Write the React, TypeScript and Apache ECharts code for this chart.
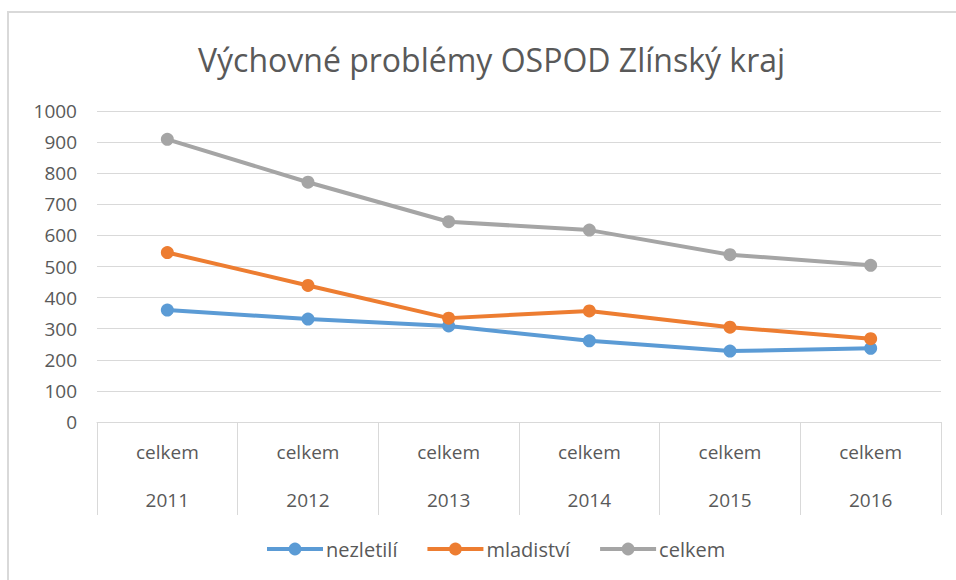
import React, { useEffect, useRef } from "react";
import * as echarts from "echarts";

const years = ["2011", "2012", "2013", "2014", "2015", "2016"];
const subLabels = ["celkem", "celkem", "celkem", "celkem", "celkem", "celkem"];
const nezletili = [360, 331, 309, 261, 228, 237];
const mladistvi = [545, 439, 334, 357, 305, 268];
const celkem = [909, 771, 644, 617, 538, 504];
const yTicks = { min: 0, max: 1000, interval: 100 };

const FONT = "'Open Sans', sans-serif";
const TEXT = "#595959";

export default function App() {
  const ref = useRef<HTMLDivElement>(null);
  useEffect(() => {
    document.body.style.margin = "0";
    const chart = echarts.init(ref.current!, null, { renderer: "svg" });
    const mkSeries = (name: string, data: number[], color: string) => ({
      name,
      type: "line",
      data,
      symbol: "circle",
      symbolSize: 13,
      lineStyle: { width: 4, color },
      itemStyle: { color },
      emphasis: { disabled: true },
    });
    chart.setOption({
      animation: false,
      textStyle: { fontFamily: FONT },
      title: {
        text: "Výchovné problémy OSPOD Zlínský kraj",
        left: 193,
        top: 38,
        textStyle: { fontFamily: FONT, fontSize: 32, fontWeight: "normal", color: TEXT },
      },
      graphic: [
        {
          type: "rect",
          shape: { x: 8, y: 12, width: 1000, height: 700 },
          style: { fill: "none", stroke: "#D9D9D9", lineWidth: 2 },
          silent: true,
          z: -1,
        },
      ],
      legend: {
        bottom: 16,
        left: 260,
        itemWidth: 56,
        itemHeight: 16,
        itemGap: 28,
        lineStyle: { width: 4 },
        textStyle: { fontFamily: FONT, fontSize: 20, color: TEXT, padding: [0, 0, 0, -2] },
        data: ["nezletilí", "mladiství", "celkem"],
      },
      grid: { left: 97, right: 15, top: 111, bottom: 158, containLabel: false },
      xAxis: {
        type: "category",
        data: years,
        boundaryGap: true,
        axisLine: { lineStyle: { color: "#D9D9D9", width: 1 } },
        axisTick: { show: true, length: 93, interval: 0, lineStyle: { color: "#D9D9D9" } },
        axisLabel: {
          interval: 0,
          margin: 18,
          color: TEXT,
          fontFamily: FONT,
          fontSize: 19,
          lineHeight: 24,
          formatter: (v: string, i: number) => `${subLabels[i]}\n\n${v}`,
        },
        splitLine: { show: false },
      },
      yAxis: {
        type: "value",
        min: yTicks.min,
        max: yTicks.max,
        interval: yTicks.interval,
        axisLine: { show: false },
        axisTick: { show: false },
        axisLabel: {
          color: TEXT,
          fontFamily: FONT,
          fontSize: 19,
          margin: 20,
          formatter: (v: number) => String(v),
        },
        splitLine: { lineStyle: { color: "#D9D9D9", width: 1 } },
      },
      series: [
        mkSeries("nezletilí", nezletili, "#5B9BD5"),
        mkSeries("mladiství", mladistvi, "#ED7D31"),
        mkSeries("celkem", celkem, "#A5A5A5"),
      ],
    });
    return () => chart.dispose();
  }, []);
  return <div ref={ref} style={{ width: 956, height: 580 }} />;
}
